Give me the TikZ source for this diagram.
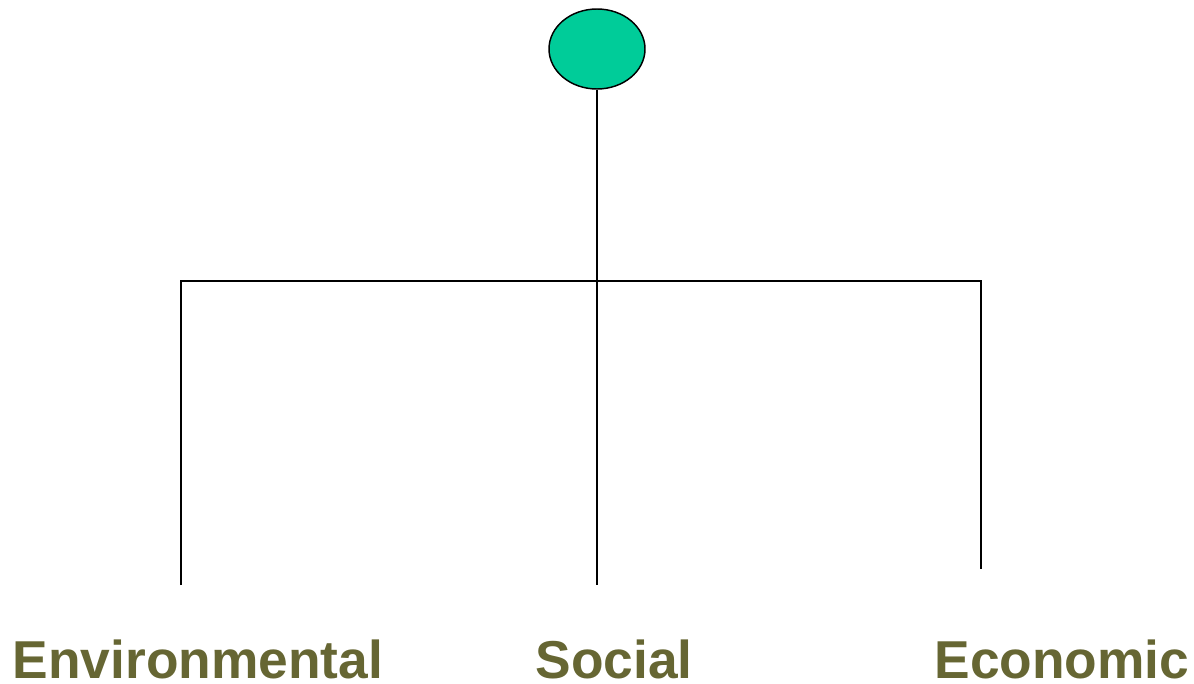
\documentclass[tikz,border=0pt]{standalone}
\usepackage{fontspec}
\setmainfont{Liberation Sans}
\usetikzlibrary{shapes.geometric}
\definecolor{olivetext}{HTML}{666633}
\definecolor{rootfill}{HTML}{00CC99}

\begin{document}
\begin{tikzpicture}[
    x=0.75pt, y=-0.75pt,
    root/.style={ellipse, draw, line width=1.1pt, fill=rootfill, minimum width=72pt, minimum height=60pt, inner sep=0pt},
    branch/.style={line width=1.1pt},
    % labels sit on a common baseline under the branch ends
    pillar/.style={anchor=base, inner sep=0pt, text=olivetext, font=\fontsize{40}{44}\selectfont\bfseries}
  ]
    \useasboundingbox (0,0) rectangle (1194,684);

    %--- Root and the three label nodes ---
    \node[root] (top) at (597,49) {};
    \node[pillar] (env) at (198,678) {Environmental};
    \node[pillar] (soc) at (614,678) {Social};
    \node[pillar] (eco) at (1062,678) {Economic};

    %--- Branch points ---
    \coordinate (hub) at (597,281);
    \coordinate (left) at (181,281);
    \coordinate (right) at (981,281);
    \coordinate (envend) at (181,585);
    \coordinate (socend) at (597,585);
    \coordinate (ecoend) at (981,569);

    %--- Edges
    \draw[branch] (top.south) -- (socend);
    \draw[branch] (envend) -- (left) -- (right) -- (ecoend);
  \end{tikzpicture}
\end{document}
